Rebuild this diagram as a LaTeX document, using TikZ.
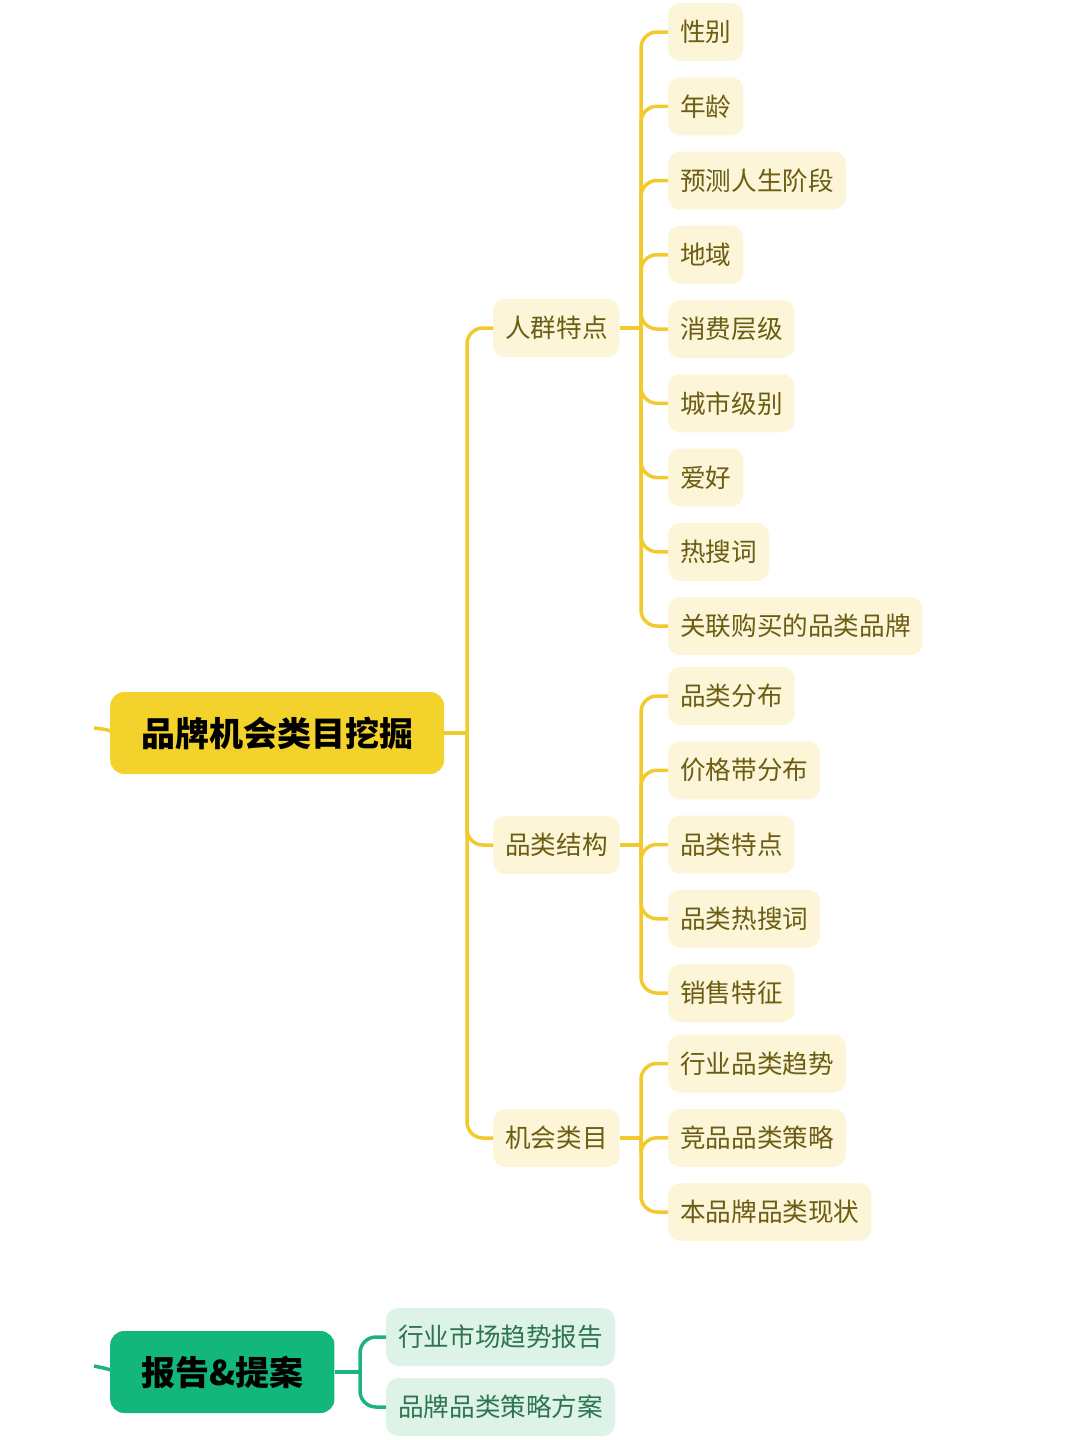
\documentclass[tikz,border=0pt]{standalone}
\usepackage{fontspec}
\setmainfont{Noto Sans CJK SC}
\usetikzlibrary{positioning}
\definecolor{gold}{HTML}{F4D22C}
\definecolor{goldline}{HTML}{F1CB2E}
\definecolor{cream}{HTML}{FDF5D8}
\definecolor{olive}{HTML}{6B5D12}
\definecolor{jade}{HTML}{14B77B}
\definecolor{jadeline}{HTML}{1CB47C}
\definecolor{mint}{HTML}{DDF3E8}
\definecolor{pine}{HTML}{2E7451}

\begin{document}
\begin{tikzpicture}[x=1pt, y=-1pt,
    rootbox/.style={fill=#1, rounded corners=14pt, minimum height=82pt, inner xsep=31pt, inner ysep=0pt, font=\fontsize{34}{40}\selectfont\bfseries, text=black},
    ybox/.style={fill=cream, rounded corners=12pt, minimum height=58pt, inner xsep=12pt, inner ysep=0pt, font=\fontsize{25.6}{30}\selectfont, text=olive, anchor=west},
    gbox/.style={ybox, fill=mint, text=pine},
    ylink/.style={draw=goldline, line width=3.5pt, rounded corners=16pt},
    glink/.style={ylink, draw=jadeline}]
    \useasboundingbox (0,0) rectangle (1080,1440);

    % first branch
    \coordinate (in1) at (94,728);
    \coordinate (r1) at (467,733);
    \draw[ylink] (in1) .. controls (104,729) .. (118,733);
    \node[rootbox=gold, anchor=west] (root) at (110,733) {品牌机会类目挖掘};
    \draw[ylink] (root.east) -- (r1);

    \node[ybox] (crowd) at (493,328) {人群特点};
    \node[ybox] (cat) at (493,845) {品类结构};
    \node[ybox] (chance) at (493,1138) {机会类目};
    \foreach \k in {crowd, cat, chance}
        \draw[ylink] (r1) |- (\k.west);

    % leaves
    \coordinate (s1) at (641,328);
    \coordinate (s2) at (641,845);
    \coordinate (s3) at (641,1138);
    \draw[ylink] (crowd.east) -- (s1);
    \draw[ylink] (cat.east) -- (s2);
    \draw[ylink] (chance.east) -- (s3);

    \foreach \t [count=\i] in {性别, 年龄, 预测人生阶段, 地域, 消费层级, 城市级别, 爱好, 热搜词, 关联购买的品类品牌} {
        \node[ybox] (a\i) at (668,{32+74.25*(\i-1)}) {\t};
        \draw[ylink] (s1) |- (a\i.west);
    }
    \foreach \t [count=\i] in {品类分布, 价格带分布, 品类特点, 品类热搜词, 销售特征} {
        \node[ybox] (b\i) at (668,{696+74.25*(\i-1)}) {\t};
        \draw[ylink] (s2) |- (b\i.west);
    }
    \foreach \t [count=\i] in {行业品类趋势, 竞品品类策略, 本品牌品类现状} {
        \node[ybox] (c\i) at (668,{1063.5+74.25*(\i-1)}) {\t};
        \draw[ylink] (s3) |- (c\i.west);
    }

    % second branch
    \coordinate (in2) at (94,1366);
    \coordinate (g1) at (360,1372);
    \draw[glink] (in2) .. controls (104,1368) .. (118,1372);
    \node[rootbox=jade, anchor=west] (report) at (110,1372) {报告\&提案};
    \draw[glink] (report.east) -- (g1);
    \node[gbox] (d1) at (386,1337) {行业市场趋势报告};
    \node[gbox] (d2) at (386,1407) {品牌品类策略方案};
    \draw[glink] (g1) |- (d1.west);
    \draw[glink] (g1) |- (d2.west);
\end{tikzpicture}
\end{document}
